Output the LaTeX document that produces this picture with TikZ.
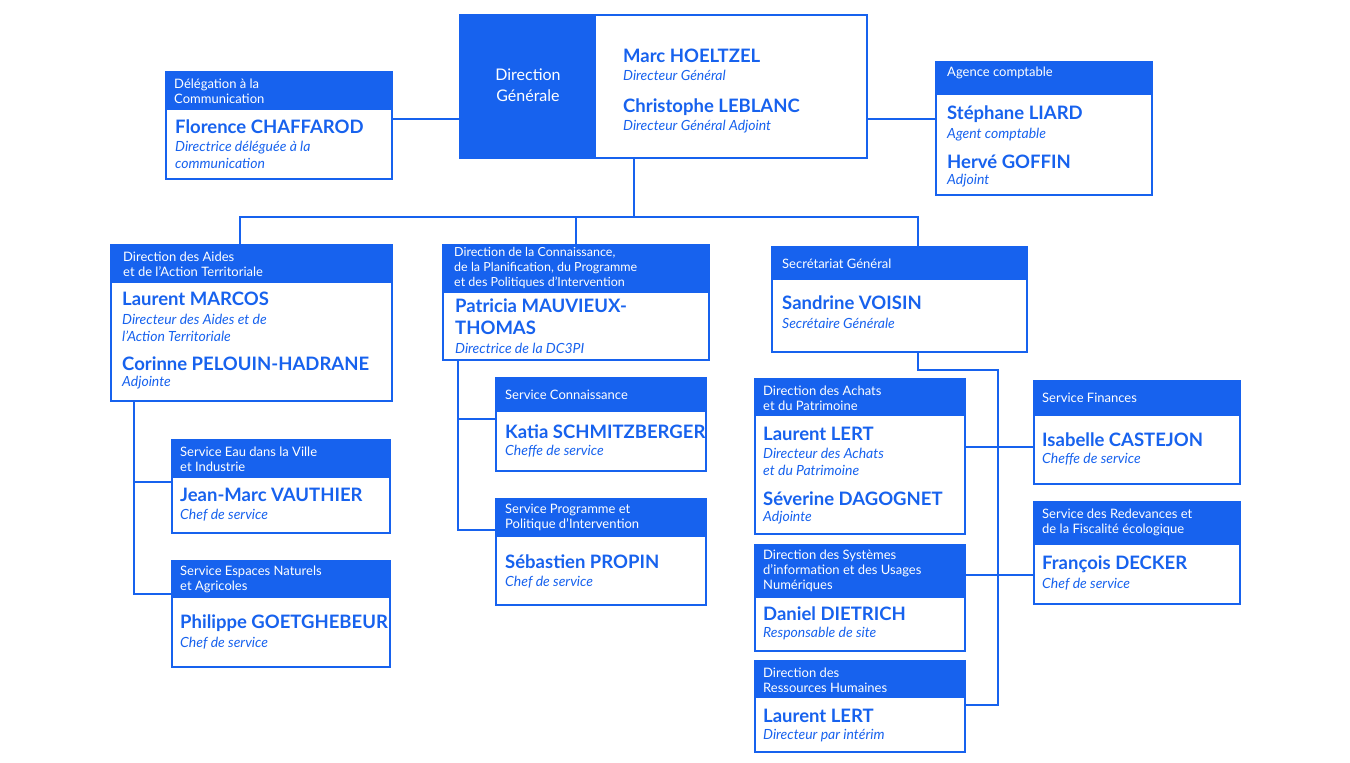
\documentclass[tikz,border=0pt]{standalone}
\usepackage{fontspec}
\setmainfont{Lato}
\definecolor{bl}{HTML}{1762EE}
\tikzset{x=1pt,y=-1pt,
 ln/.style={draw=bl,line width=2pt},
 hd/.style={anchor=west,inner sep=0pt,text=white,font=\fontsize{13}{15}\selectfont,align=left},
 nm/.style={anchor=west,inner sep=0pt,text=bl,font=\fontsize{18.5}{21}\selectfont\bfseries},
 rl/.style={anchor=west,inner sep=0pt,text=bl,font=\fontsize{14}{17}\selectfont\itshape,align=left}}
\newcommand\obox[6]{\fill[bl] (#2,#3) rectangle (#4,#6);
 \draw[ln] (#2,#3) rectangle (#4,#5);
 \coordinate (#1nw) at (#2,#3); \coordinate (#1se) at (#4,#5);}
\begin{document}
\begin{tikzpicture}
\useasboundingbox[fill=white] (0,0) rectangle (1350,763);
% connectors
\coordinate (dgB) at (634,158); \coordinate (j1) at (634,217);
\coordinate (jl) at (240,217); \coordinate (jr) at (918,217);
\draw[ln] (392,119) -- (460,119);
\draw[ln] (867,119) -- (936,119);
\draw[ln] (dgB) -- (j1);
\draw[ln] (240,245) -- (jl) -- (jr) -- (918,247);
\draw[ln] (576,217) -- (576,245);
\draw[ln] (134,401) -- (134,594) -- (172,594);
\draw[ln] (134,482) -- (172,482);
\draw[ln] (458,360) -- (458,530) -- (496,530);
\draw[ln] (458,419) -- (496,419);
\draw[ln] (918,352) -- (918,370) -- (998,370) -- (998,705) -- (965,705);
\draw[ln] (965,447) -- (1034,447);
\draw[ln] (965,575) -- (1034,575);
% DG
\fill[bl] (460,15) rectangle (596,158);
\draw[ln] (460,15) rectangle (867,158);
\node[hd,anchor=center,align=center,font=\fontsize{16}{21}\selectfont] (dgt) at (528,85) {Direction\\Générale};
\node[nm] (n1) at (623,56) {Marc HOELTZEL};
\node[rl] (r1) at (623,75) {Directeur Général};
\node[nm] (n2) at (623,107) {Christophe LEBLANC};
\node[rl] (r2) at (623,127) {Directeur Général Adjoint};
% Delegation
\obox{del}{166}{72}{392}{179}{110}
\node[hd] (h1) at (174,91) {Délégation à la\\Communication};
\node[nm] (n3) at (175,127) {Florence CHAFFAROD};
\node[rl] (r3) at (175,155) {Directrice déléguée à la\\communication};
% Agence
\obox{ag}{936}{62}{1152}{195}{95}
\node[hd] (h2) at (947,73) {Agence comptable};
\node[nm] (n4) at (947,114) {Stéphane LIARD};
\node[rl] (r4) at (947,135) {Agent comptable};
\node[nm] (n5) at (947,162) {Hervé GOFFIN};
\node[rl] (r5) at (947,181) {Adjoint};
% DAAT
\obox{daat}{111}{245}{392}{401}{283}
\node[hd] (h3) at (123,264) {Direction des Aides\\et de l’Action Territoriale};
\node[nm] (n6) at (122,299) {Laurent MARCOS};
\node[rl] (r6) at (122,328) {Directeur des Aides et de\\l’Action Territoriale};
\node[nm] (n7) at (122,364) {Corinne PELOUIN-HADRANE};
\node[rl] (r7) at (122,383) {Adjointe};
% Eau
\obox{eau}{172}{440}{390}{533}{478}
\node[hd] (h4) at (180,459) {Service Eau dans la Ville\\et Industrie};
\node[nm] (n8) at (180,495) {Jean-Marc VAUTHIER};
\node[rl] (r8) at (180,515) {Chef de service};
% Espaces
\obox{esp}{172}{561}{390}{667}{598}
\node[hd] (h5) at (180,579) {Service Espaces Naturels\\et Agricoles};
\node[nm] (n9) at (180,623) {Philippe GOETGHEBEUR};
\node[rl] (r9) at (180,643) {Chef de service};
% DC3PI
\obox{dc}{443}{245}{709}{360}{293}
\node[hd,font=\fontsize{12.5}{15}\selectfont] (h6) at (454,268) {Direction de la Connaissance,\\de la Planification, du Programme\\et des Politiques d’Intervention};
\node[nm,align=left,font=\fontsize{18.5}{22}\selectfont\bfseries] (n10) at (455,317) {Patricia MAUVIEUX-\\THOMAS};
\node[rl] (r10) at (455,348) {Directrice de la DC3PI};
% Connaissance
\obox{con}{496}{378}{706}{471}{412}
\node[hd] (h7) at (505,395) {Service Connaissance};
\node[nm] (n11) at (505,432) {Katia SCHMITZBERGER};
\node[rl] (r11) at (505,451) {Cheffe de service};
% Programme
\obox{pro}{496}{499}{706}{605}{537}
\node[hd] (h8) at (505,517) {Service Programme et\\Politique d’Intervention};
\node[nm] (n12) at (505,562) {Sébastien PROPIN};
\node[rl] (r12) at (505,582) {Chef de service};
% SG
\obox{sg}{772}{247}{1027}{352}{280}
\node[hd] (h9) at (782,264) {Secrétariat Général};
\node[nm] (n13) at (782,303) {Sandrine VOISIN};
\node[rl] (r13) at (782,323) {Secrétaire Générale};
% DAP
\obox{dap}{755}{379}{965}{534}{416}
\node[hd] (h10) at (763,398) {Direction des Achats\\et du Patrimoine};
\node[nm] (n14) at (763,434) {Laurent LERT};
\node[rl] (r14) at (763,462) {Directeur des Achats\\et du Patrimoine};
\node[nm] (n15) at (763,499) {Séverine DAGOGNET};
\node[rl] (r15) at (763,518) {Adjointe};
% DSI
\obox{dsi}{755}{545}{965}{651}{598}
\node[hd] (h11) at (763,571) {Direction des Systèmes\\d’information et des Usages\\Numériques};
\node[nm] (n16) at (763,614) {Daniel DIETRICH};
\node[rl] (r16) at (763,634) {Responsable de site};
% DRH
\obox{drh}{755}{661}{965}{752}{698}
\node[hd] (h12) at (763,680) {Direction des\\Ressources Humaines};
\node[nm] (n17) at (763,716) {Laurent LERT};
\node[rl] (r17) at (763,736) {Directeur par intérim};
% Finances
\obox{fin}{1034}{381}{1240}{484}{416}
\node[hd] (h13) at (1042,398) {Service Finances};
\node[nm] (n18) at (1042,440) {Isabelle CASTEJON};
\node[rl] (r18) at (1042,459) {Cheffe de service};
% Redevances
\obox{red}{1034}{502}{1240}{604}{545}
\node[hd] (h14) at (1042,522) {Service des Redevances et\\de la Fiscalité écologique};
\node[nm] (n19) at (1042,564) {François DECKER};
\node[rl] (r19) at (1042,584) {Chef de service};
\end{tikzpicture}
\end{document}
